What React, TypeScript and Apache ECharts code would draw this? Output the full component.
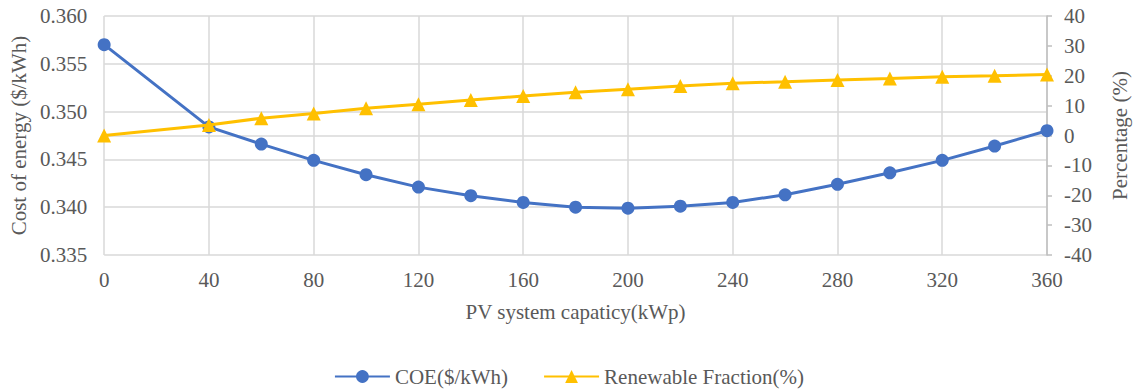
import React, { useEffect, useRef } from "react";
import * as echarts from "echarts";

const pvCapacity = [0, 40, 60, 80, 100, 120, 140, 160, 180, 200, 220, 240, 260, 280, 300, 320, 340, 360];
const coeValues = [0.3570, 0.3484, 0.3466, 0.3449, 0.3434, 0.3421, 0.3412, 0.3405, 0.3400, 0.3399, 0.3401, 0.3405, 0.3413, 0.3424, 0.3436, 0.3449, 0.3464, 0.3480];
const renewableValues = [0, 3.5, 5.8, 7.4, 9.1, 10.5, 11.9, 13.2, 14.5, 15.5, 16.6, 17.5, 18.0, 18.6, 19.1, 19.7, 20.0, 20.4];

const FONT = "Liberation Serif";
const FS = 21;
const TXT = "#595959";
const GRID = "#D9D9D9";

export default function App() {
  const ref = useRef<HTMLDivElement>(null);
  useEffect(() => {
    if (!ref.current) return;
    const chart = echarts.init(ref.current, null, { renderer: "svg" });
    chart.setOption({
      animation: false,
      backgroundColor: "#fff",
      textStyle: { fontFamily: FONT },
      grid: { left: 104, right: 89, top: 16, bottom: 137, containLabel: false },
      legend: {
        top: 361,
        left: "center",
        itemWidth: 55,
        itemHeight: 16,
        itemGap: 35,
        textStyle: { fontFamily: FONT, fontSize: FS, color: TXT },
        data: ["COE($/kWh)", "Renewable Fraction(%)"],
      },
      xAxis: {
        type: "value",
        min: 0,
        max: 360,
        interval: 40,
        name: "PV system capaticy(kWp)",
        nameLocation: "middle",
        nameGap: 46,
        nameTextStyle: { fontFamily: FONT, fontSize: FS, color: TXT },
        axisLine: { show: true, lineStyle: { color: GRID, width: 1.5 } },
        axisTick: { show: false },
        axisLabel: { fontFamily: FONT, fontSize: FS, color: TXT, margin: 14 },
        splitLine: { show: true, lineStyle: { color: GRID, width: 1.5 } },
      },
      yAxis: [
        {
          type: "value",
          min: 0.335,
          max: 0.36,
          interval: 0.005,
          name: "Cost of energy ($/kWh)",
          nameLocation: "middle",
          nameGap: 73,
          nameRotate: 90,
          nameTextStyle: { fontFamily: FONT, fontSize: FS, color: TXT },
          axisLine: { show: false },
          axisTick: { show: false },
          axisLabel: {
            fontFamily: FONT,
            fontSize: FS,
            color: TXT,
            margin: 17,
            formatter: (v: number) => v.toFixed(3),
          },
          splitLine: { show: true, lineStyle: { color: GRID, width: 1.5 } },
        },
        {
          type: "value",
          min: -40,
          max: 40,
          interval: 10,
          position: "right",
          name: "Percentage (%)",
          nameLocation: "middle",
          nameGap: 62,
          nameRotate: 90,
          nameTextStyle: { fontFamily: FONT, fontSize: FS, color: TXT },
          axisLine: { show: true, lineStyle: { color: "#BFBFBF", width: 1.5 } },
          axisTick: { show: true, inside: false, length: 5, lineStyle: { color: "#BFBFBF", width: 1.5 } },
          axisLabel: { fontFamily: FONT, fontSize: FS, color: TXT, margin: 17 },
          splitLine: { show: false },
        },
      ],
      series: [
        {
          name: "COE($/kWh)",
          type: "line",
          yAxisIndex: 0,
          data: pvCapacity.map((x, i) => [x, coeValues[i]]),
          symbol: "circle",
          symbolSize: 13,
          itemStyle: { color: "#4472C4" },
          lineStyle: { color: "#4472C4", width: 3 },
          z: 3,
        },
        {
          name: "Renewable Fraction(%)",
          type: "line",
          yAxisIndex: 1,
          data: pvCapacity.map((x, i) => [x, renewableValues[i]]),
          symbol: "triangle",
          symbolSize: 14,
          itemStyle: { color: "#FFC000" },
          lineStyle: { color: "#FFC000", width: 3 },
          z: 4,
        },
      ],
    });
    return () => chart.dispose();
  }, []);
  return (
    <div
      ref={ref}
      style={{ position: "fixed", left: 0, top: 0, width: 1138, height: 392, background: "#fff" }}
    />
  );
}
